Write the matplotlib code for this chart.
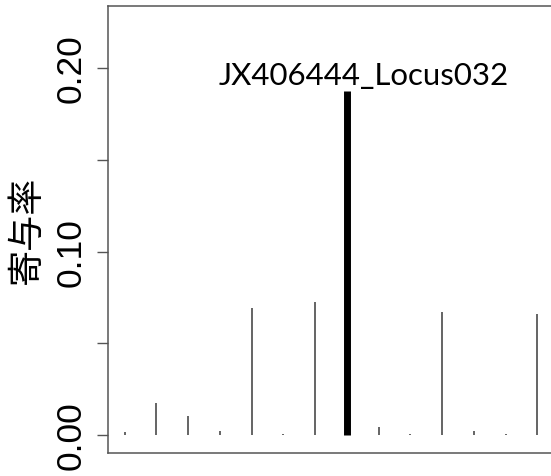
import matplotlib
matplotlib.use("Agg")
import matplotlib.pyplot as plt
from matplotlib.ticker import FixedLocator, FixedFormatter

# Data
positions = list(range(1, 15))
contrib = [0.0015, 0.0174, 0.0102, 0.0022, 0.0690, 0.0005, 0.0726,
           0.1875, 0.0042, 0.0005, 0.0672, 0.0023, 0.0005, 0.0661]
highlight_index = 7
highlight_label = "JX406444_Locus032"
ytick_values = [0.00, 0.05, 0.10, 0.15, 0.20]
ytick_labels = ["0.00", "", "0.10", "", "0.20"]
ylabel = "寄与率"

W, H = 551, 477
fig = plt.figure(figsize=(W / 100, H / 100), dpi=100)
left_px, right_px, top_px, bottom_px = 108, 554, 7, 454
ax = fig.add_axes([left_px / W, 1 - bottom_px / H,
                   (right_px - left_px) / W, (bottom_px - top_px) / H])

for i, (x, v) in enumerate(zip(positions, contrib)):
    if i == highlight_index:
        ax.vlines(x, 0, v, color="black", linewidth=5.0, capstyle="butt")
    else:
        ax.vlines(x, 0, v, color="#3a3a3a", linewidth=1.1, capstyle="butt")

ax.text(8.54, 0.1913, highlight_label, family=["Lato", "DejaVu Sans"],
        fontsize=22.5, ha="center", va="baseline", color="black")

ax.set_xlim(0.48, 14.52)
ax.set_ylim(-0.0098, 0.2338)
ax.set_xticks([])
ax.yaxis.set_major_locator(FixedLocator(ytick_values))
ax.yaxis.set_major_formatter(FixedFormatter(ytick_labels))
ax.tick_params(axis="y", length=8, width=1.0, color="#555555", pad=7,
               labelsize=25.5, labelcolor="black")
for lab in ax.get_yticklabels():
    lab.set_rotation(90)
    lab.set_va("center")
    lab.set_family(["Liberation Sans", "DejaVu Sans"])
for sp in ax.spines.values():
    sp.set_color("#555555")
    sp.set_linewidth(1.1)

fig.text(27 / W, 1 - 230 / H, ylabel, rotation=90, ha="center", va="center",
         fontsize=26, family=["Noto Sans CJK JP", "DejaVu Sans"], color="black")

fig.savefig("out.png", dpi=100)
